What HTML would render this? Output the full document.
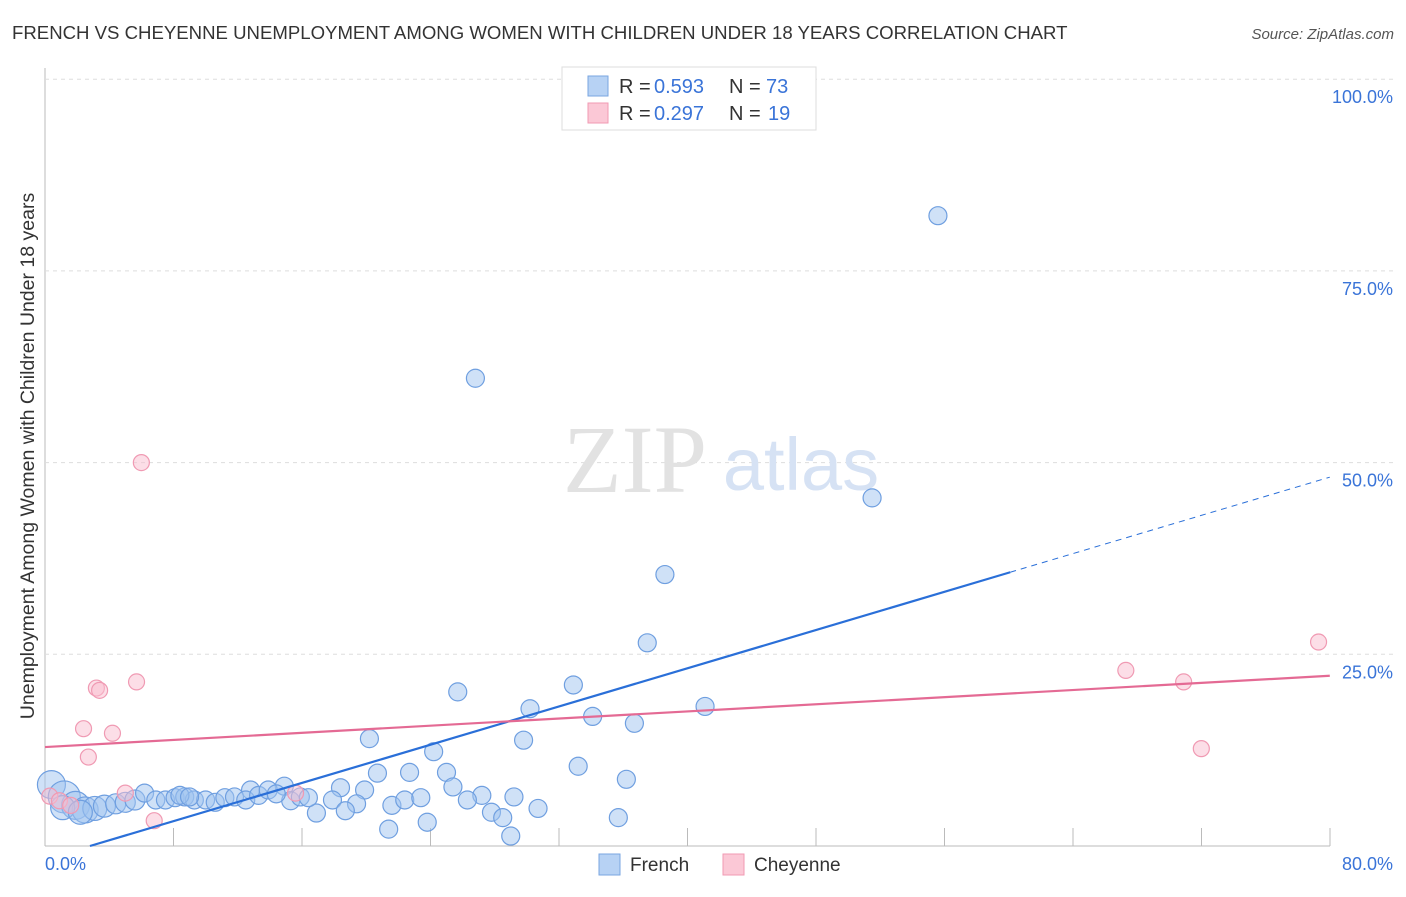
<!DOCTYPE html>
<html><head><meta charset="utf-8"><style>
body{margin:0;background:#fff;font-family:"Liberation Sans",sans-serif;}
</style></head><body>
<svg id="chart" width="1406" height="892" font-family="Liberation Sans, sans-serif">
<text x="12" y="39" font-size="18.6" fill="#333">FRENCH VS CHEYENNE UNEMPLOYMENT AMONG WOMEN WITH CHILDREN UNDER 18 YEARS CORRELATION CHART</text>
<text x="1394" y="39" font-size="15" fill="#555" font-style="italic" text-anchor="end">Source: ZipAtlas.com</text>
<g id="grid"></g>
<text x="635" y="492" font-size="96" fill="#e2e2e2" font-family="Liberation Serif, serif" text-anchor="middle">ZIP</text>
<text x="801" y="490" font-size="74" fill="#d6e2f4" text-anchor="middle">atlas</text>
<text transform="translate(34,456) rotate(-90)" font-size="19.5" fill="#333" text-anchor="middle">Unemployment Among Women with Children Under 18 years</text>
<g id="pts"></g>
<g id="lines"></g>
<g>
<rect x="562" y="67" width="254" height="63" fill="#fff" stroke="#ddd"/>
<rect x="588" y="76" width="20" height="20" fill="#b7d2f4" stroke="#7aa6e0"/>
<rect x="588" y="103" width="20" height="20" fill="#fbc8d6" stroke="#f09ab3"/>
<text x="619" y="93" font-size="20" fill="#333">R =</text>
<text x="654" y="93" font-size="20" fill="#3a74d8">0.593</text>
<text x="729" y="93" font-size="20" fill="#333">N =</text>
<text x="766" y="93" font-size="20" fill="#3a74d8">73</text>
<text x="619" y="120" font-size="20" fill="#333">R =</text>
<text x="654" y="120" font-size="20" fill="#3a74d8">0.297</text>
<text x="729" y="120" font-size="20" fill="#333">N =</text>
<text x="768" y="120" font-size="20" fill="#3a74d8">19</text>
</g>
<g>
<rect x="599" y="854" width="21" height="21" fill="#b7d2f4" stroke="#7aa6e0"/>
<text x="630" y="871" font-size="19" fill="#333">French</text>
<rect x="723" y="854" width="21" height="21" fill="#fbc8d6" stroke="#f09ab3"/>
<text x="754" y="871" font-size="19" fill="#333">Cheyenne</text>
</g>
</svg>
<script>
const xTicks=[0,80];
const yTicks=[25,50,75,100];
const frenchX=[55.6,26.8,51.5,38.6,37.5,41.1,32.9,25.7,30.2,34.1,36.7,20.2,29.8,24.2,33.2,22.7,20.7,25.0,36.2,12.8,14.9,18.4,19.9,25.4,27.2,29.2,26.3,15.3,17.9,19.4,21.6,22.4,23.4,30.7,16.9,18.7,27.8,28.5,23.8,21.4,35.7,29.0,0.4,1.2,1.9,2.5,3.1,3.7,4.4,5.0,5.6,6.2,6.9,7.5,8.1,8.7,9.3,10.0,10.6,11.2,11.8,12.5,13.3,13.9,14.4,15.9,16.4,8.4,9.0,1.1,2.2];
const frenchY=[82.2,61.0,45.4,35.4,26.5,18.2,21.0,20.1,17.9,16.9,16.0,14.0,13.8,12.3,10.4,9.6,9.5,9.6,8.7,7.3,7.8,7.6,7.3,7.7,6.6,6.4,6.0,5.9,6.0,5.5,5.3,6.0,6.3,4.9,4.3,4.6,4.4,3.7,3.1,2.2,3.7,1.3,8.0,6.4,5.3,4.7,4.9,5.2,5.5,5.7,6.0,6.9,6.0,6.0,6.3,6.4,6.0,6.0,5.7,6.3,6.4,6.0,6.6,7.3,6.8,6.4,6.3,6.6,6.4,5.0,4.4];
const frenchR=[9,9,9,9,9,9,9,9,9,9,9,9,9,9,9,9,9,9,9,9,9,9,9,9,9,9,9,9,9,9,9,9,9,9,9,9,9,9,9,9,9,9,14,16,14,13,12,11,10,10,10,9,9,9,9,9,9,9,9,9,9,9,9,9,9,9,9,9,9,12,12];
const cheyX=[6.0,3.2,5.7,3.4,2.4,4.2,2.7,6.8,5.0,15.6,0.3,0.9,1.6,79.3,67.3,70.9,72.0];
const cheyY=[50.0,20.6,21.4,20.3,15.3,14.7,11.6,3.3,6.9,6.9,6.5,5.9,5.3,26.6,22.9,21.4,12.7];
const blueLine=[[2.8,0],[60.1,35.7]], blueDash=[[60.1,35.7],[80,48.1]];
const pinkLine=[[0,12.9],[80,22.2]];
const X=v=>45+v*16.06, Y=v=>846-v*7.668;
const NS='http://www.w3.org/2000/svg';
function mk(t,a,p){const e=document.createElementNS(NS,t);for(const k in a)e.setAttribute(k,a[k]);p.appendChild(e);return e;}
const grid=document.getElementById('grid');
mk('line',{x1:45,y1:68,x2:45,y2:846,stroke:'#bbb'},grid);
mk('line',{x1:45,y1:846,x2:1330,y2:846,stroke:'#bbb'},grid);
yTicks.forEach(t=>{const l=mk('line',{x1:45,y1:Y(t),x2:1394,y2:Y(t),stroke:'#ddd','stroke-dasharray':'4,4'},grid);


const tx=mk('text',{x:1393,y:Y(t)+24,'font-size':18,fill:'#3a74d8','text-anchor':'end'},grid);tx.textContent=t.toFixed(1)+'%';

});
for(let i=1;i<=10;i++){const x=45+i*128.5;mk('line',{x1:x,y1:828,x2:x,y2:846,stroke:'#bbb'},grid);}
xTicks.forEach((t,i)=>{const tx=mk('text',{x:i?1393:45,y:870,'font-size':18,fill:'#3a74d8','text-anchor':i?'end':'start'},grid);tx.textContent=t.toFixed(1)+'%';

});
const pts=document.getElementById('pts');
frenchX.forEach((v,i)=>{const c=mk('circle',{cx:X(v),cy:Y(frenchY[i]),r:frenchR[i],fill:'rgba(160,196,240,0.5)',stroke:'#6f9fe0','stroke-width':1.2},pts);

});
cheyX.forEach((v,i)=>{const c=mk('circle',{cx:X(v),cy:Y(cheyY[i]),r:8,fill:'rgba(250,190,208,0.5)',stroke:'#f09ab3','stroke-width':1.2},pts);

});
const lines=document.getElementById('lines');
let l=mk('line',{x1:X(blueLine[0][0]),y1:Y(blueLine[0][1]),x2:X(blueLine[1][0]),y2:Y(blueLine[1][1]),stroke:'#2a6fd8','stroke-width':2.2},lines);


l=mk('line',{x1:X(blueDash[0][0]),y1:Y(blueDash[0][1]),x2:X(blueDash[1][0]),y2:Y(blueDash[1][1]),stroke:'#2a6fd8','stroke-width':1,'stroke-dasharray':'6,5'},lines);


l=mk('line',{x1:X(pinkLine[0][0]),y1:Y(pinkLine[0][1]),x2:X(pinkLine[1][0]),y2:Y(pinkLine[1][1]),stroke:'#e46a94','stroke-width':2.2},lines);


</script>
</body></html>
